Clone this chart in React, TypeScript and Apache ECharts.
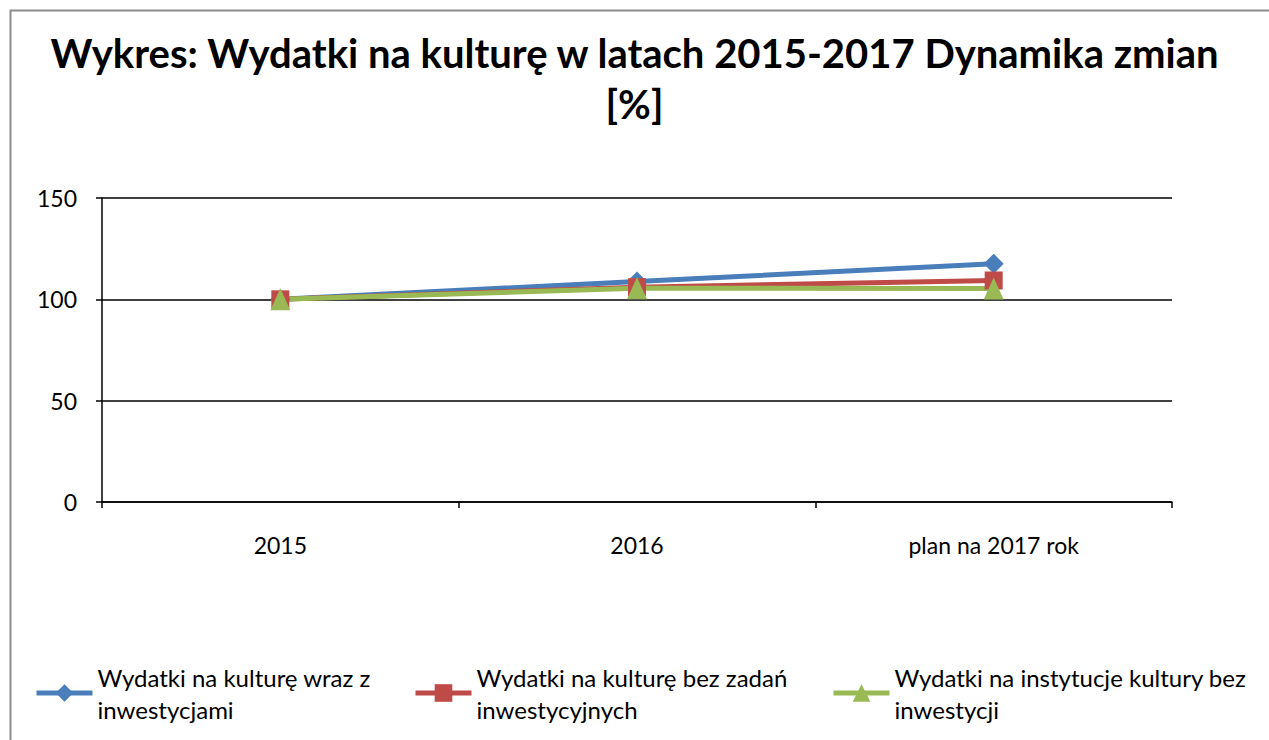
import React, { useEffect, useRef } from "react";
import * as echarts from "echarts";

const categories = ["2015", "2016", "plan na 2017 rok"];
const seriesNames = [
  "Wydatki na kulturę wraz z\ninwestycjami",
  "Wydatki na kulturę bez zadań\ninwestycyjnych",
  "Wydatki na instytucje kultury bez\ninwestycji",
];
const blueValues = [100, 108.8, 117.6];
const redValues = [100, 106, 109.3];
const greenValues = [100, 105.5, 105.3];
const colors = ["#4A7EBB", "#BE4B48", "#98B954"];
const symbols = ["diamond", "rect", "triangle"];
const symbolSizes = [[20, 20], [18, 18], [20, 22]];
const yTicks = { min: 0, max: 150, interval: 50 };

const FONT = "Lato";

export default function App() {
  const ref = useRef<HTMLDivElement>(null);
  useEffect(() => {
    const chart = echarts.init(ref.current!, null, { renderer: "svg" });
    const values = [blueValues, redValues, greenValues];
    const legendLefts = [29, 408, 826];
    chart.setOption({
      animation: false,
      backgroundColor: "#ffffff",
      title: {
        text: "Wykres: Wydatki na kulturę w latach 2015-2017 Dynamika zmian\n[%]",
        left: "center",
        top: 22,
        textStyle: {
          fontFamily: FONT,
          fontWeight: "bold",
          fontSize: 40,
          lineHeight: 51,
          color: "#000",
        },
      },
      graphic: [
        {
          type: "rect",
          shape: { x: 10.5, y: 10.5, width: 1300, height: 800 },
          style: { fill: "none", stroke: "#8c8c8c", lineWidth: 2 },
          silent: true,
        },
      ],
      legend: seriesNames.map((n, i) => ({
        data: [n],
        left: legendLefts[i],
        top: 640,
        itemWidth: 56,
        itemHeight: 22,
        itemGap: 0,
        lineStyle: { width: 5 },
        textStyle: {
          fontFamily: FONT,
          fontSize: 24,
          lineHeight: 32,
          color: "#000",
          padding: [32, 0, 0, 0],
        },
      })),
      grid: { left: 102, right: 97, top: 198, bottom: 238 },
      xAxis: {
        type: "category",
        data: categories,
        boundaryGap: true,
        axisLine: { lineStyle: { color: "#000", width: 1.5 } },
        axisTick: { show: true, length: 6, lineStyle: { color: "#000", width: 1.5 } },
        axisLabel: { fontFamily: FONT, fontSize: 23, color: "#000", margin: 31 },
      },
      yAxis: {
        type: "value",
        min: yTicks.min,
        max: yTicks.max,
        interval: yTicks.interval,
        axisLine: { show: true, lineStyle: { color: "#000", width: 1.5 } },
        axisTick: { show: true, length: 6, lineStyle: { color: "#000", width: 1.5 } },
        splitLine: { lineStyle: { color: "#000", width: 1.5 } },
        axisLabel: { fontFamily: FONT, fontSize: 23, color: "#000", margin: 25 },
      },
      series: seriesNames.map((n, i) => ({
        name: n,
        type: "line",
        data: values[i],
        symbol: symbols[i],
        symbolSize: symbolSizes[i],
        lineStyle: { color: colors[i], width: 5 },
        itemStyle: { color: colors[i] },
      })),
    });
    return () => chart.dispose();
  }, []);
  return (
    <div
      ref={ref}
      style={{ position: "absolute", left: 0, top: 0, width: 1269, height: 740 }}
    />
  );
}
